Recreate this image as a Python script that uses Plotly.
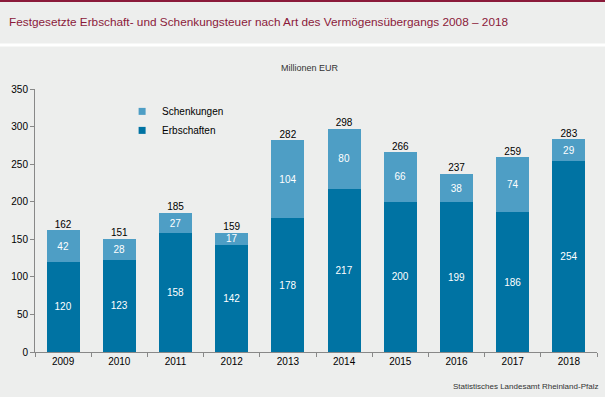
import plotly.graph_objects as go

years = ["2009", "2010", "2011", "2012", "2013", "2014", "2015", "2016", "2017", "2018"]
erbschaften = [120, 123, 158, 142, 178, 217, 200, 199, 186, 254]
schenkungen = [42, 28, 27, 17, 104, 80, 66, 38, 74, 29]
totals = [162, 151, 185, 159, 282, 298, 266, 237, 259, 283]

dark = "#0073A3"
light = "#4E9EC5"
bg = "#EDEEED"
font = "Liberation Sans, Arial, sans-serif"

fig = go.Figure()
fig.add_trace(go.Bar(
    x=years, y=erbschaften, name="Erbschaften", marker=dict(color=dark, line=dict(width=0)),
    text=[str(v) for v in erbschaften], textposition="inside", insidetextanchor="middle",
    textfont=dict(color="white", size=10, family=font), width=0.59,
    constraintext="none", showlegend=False,
))
fig.add_trace(go.Bar(
    x=years, y=schenkungen, name="Schenkungen", marker=dict(color=light, line=dict(width=0)),
    text=[str(v) for v in schenkungen], textposition="inside", insidetextanchor="middle",
    textfont=dict(color="white", size=10, family=font), width=0.59,
    constraintext="none", showlegend=False,
))
fig.add_trace(go.Scatter(
    x=years, y=totals, mode="text", text=[str(v) for v in totals],
    textposition="top center", textfont=dict(color="black", size=10, family=font),
    showlegend=False, hoverinfo="skip", cliponaxis=False,
))
# legend entries with small square symbols
fig.add_trace(go.Scatter(x=[None], y=[None], mode="markers", name="Schenkungen",
                         marker=dict(symbol="square", size=7, color=light)))
fig.add_trace(go.Scatter(x=[None], y=[None], mode="markers", name="Erbschaften",
                         marker=dict(symbol="square", size=7, color=dark)))

fig.update_layout(
    width=605, height=397,
    barmode="stack", bargap=0.41,
    paper_bgcolor=bg, plot_bgcolor=bg,
    margin=dict(l=35, r=8, t=89, b=45),
    font=dict(family=font, size=10, color="black"),
    showlegend=True,
    legend=dict(
        x=0.155, y=0.97, xanchor="left", yanchor="top",
        traceorder="normal", bgcolor="rgba(0,0,0,0)",
        font=dict(size=10, family=font), itemwidth=30, tracegroupgap=0,
    ),
    xaxis=dict(
        type="category", showline=True, linecolor="#888888", linewidth=1,
        ticks="outside", tickson="boundaries", ticklen=4, tickcolor="#888888",
        showgrid=False, tickfont=dict(size=10), fixedrange=True,
    ),
    yaxis=dict(
        range=[0, 350], dtick=50, showline=True, linecolor="#888888", linewidth=1,
        ticks="outside", ticklen=4, tickcolor="#888888", showgrid=False,
        zeroline=False, tickfont=dict(size=10), fixedrange=True,
    ),
    shapes=[
        dict(type="line", xref="paper", yref="paper", x0=-0.1, x1=1.1,
             y0=(397 - 45 - 45) / 263.0, y1=(397 - 45 - 45) / 263.0,
             line=dict(color="white", width=3)),
        dict(type="line", xref="paper", yref="paper", x0=-0.1, x1=1.1,
             y0=(397 - 45 - 1) / 263.0, y1=(397 - 45 - 1) / 263.0,
             line=dict(color="#8B1A3A", width=2)),
    ],
    annotations=[
        dict(text="Festgesetzte Erbschaft- und Schenkungsteuer nach Art des Vermögensübergangs 2008 – 2018",
             xref="paper", yref="paper", x=-35 / 562.0, y=(397 - 45 - 22) / 263.0,
             xanchor="left", yanchor="middle", showarrow=False,
             font=dict(color="#8B1A3A", size=11.8, family=font), xshift=7),
        dict(text="Millionen EUR", xref="paper", yref="paper", x=0.49, y=(397 - 45 - 68) / 263.0,
             xanchor="center", yanchor="middle", showarrow=False,
             font=dict(color="#333333", size=9, family=font)),
        dict(text="Statistisches Landesamt Rheinland-Pfalz", xref="paper", yref="paper",
             x=(600 - 35) / 562.0, y=-(386 - 352) / 263.0, xanchor="right", yanchor="middle",
             showarrow=False, font=dict(color="#333333", size=8, family=font)),
    ],
)

fig.write_html("out.html", config={"displayModeBar": False},
               post_script="document.body.style.margin='0';document.body.style.overflow='hidden';")
